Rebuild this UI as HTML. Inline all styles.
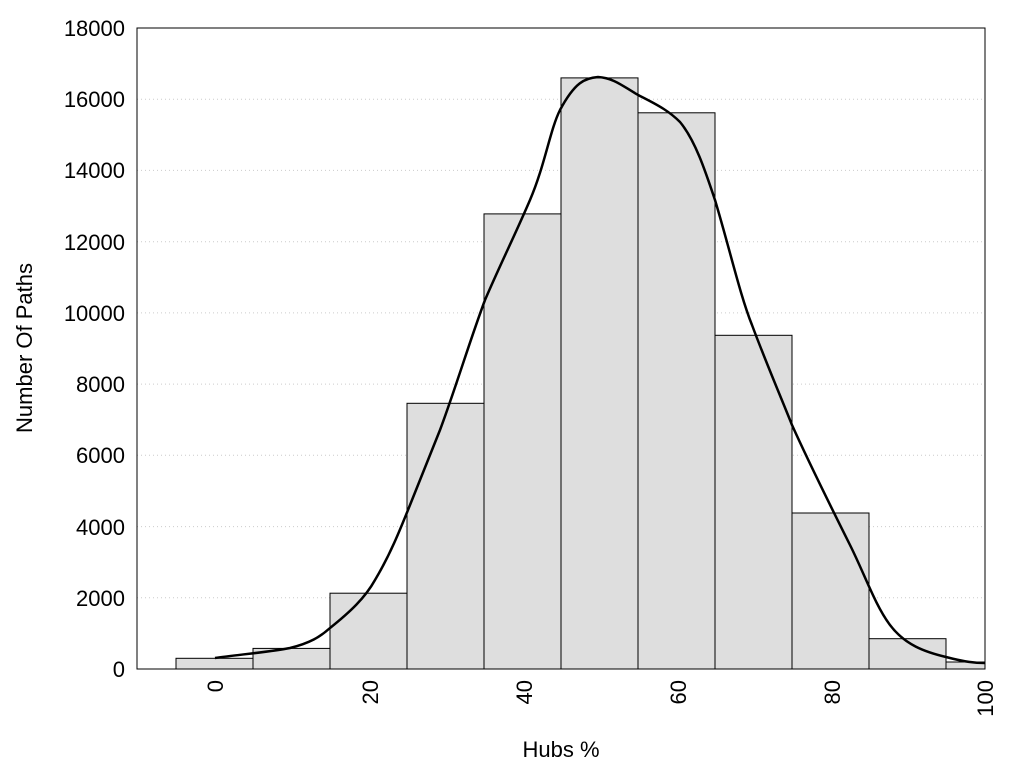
<!DOCTYPE html>
<html><head><style>body{margin:0;background:#fff}svg{display:block}</style></head><body>
<svg width="1024" height="768" xmlns="http://www.w3.org/2000/svg" font-family="Liberation Sans, sans-serif">
<rect width="1024" height="768" fill="#fff"/>
<g stroke="#ccc" stroke-dasharray="1,3" stroke-width="1">
<line x1="137" x2="985" y1="597.8" y2="597.8"/><line x1="137" x2="985" y1="526.6" y2="526.6"/>
<line x1="137" x2="985" y1="455.3" y2="455.3"/><line x1="137" x2="985" y1="384.1" y2="384.1"/>
<line x1="137" x2="985" y1="312.9" y2="312.9"/><line x1="137" x2="985" y1="241.7" y2="241.7"/>
<line x1="137" x2="985" y1="170.4" y2="170.4"/><line x1="137" x2="985" y1="99.2" y2="99.2"/>
</g>
<g fill="#dedede" stroke="#000" stroke-width="1">
<rect x="176" y="658.3" width="77" height="10.7"/>
<rect x="253" y="648.4" width="77" height="20.6"/>
<rect x="330" y="593.2" width="77" height="75.8"/>
<rect x="407" y="403.3" width="77" height="265.7"/>
<rect x="484" y="213.9" width="77" height="455.1"/>
<rect x="561" y="77.9" width="77" height="591.1"/>
<rect x="638" y="112.8" width="77" height="556.2"/>
<rect x="715" y="335.3" width="77" height="333.7"/>
<rect x="792" y="513" width="77" height="156"/>
<rect x="869" y="638.7" width="77" height="30.3"/>
<rect x="946" y="662" width="39" height="7"/>
</g>
<path d="M215,658 C235,655 270,652 290,648 C310,643 320,637 330,628 C350,612 365,598 375,580 C390,555 400,530 410,505 C420,480 430,455 440,430 C455,390 470,340 485,300 C500,265 515,235 530,200 C545,165 550,130 560,110 C575,82 585,78 598,77 C615,78 625,88 640,96 C660,106 670,112 680,122 C695,140 705,170 715,200 C730,250 740,295 752,325 C765,360 780,395 792,425 C810,465 830,505 850,545 C865,575 875,605 890,625 C905,645 925,652 946,657 C965,662 975,663 985,663" fill="none" stroke="#000" stroke-width="2.5"/>
<rect x="137" y="28" width="848" height="641" fill="none" stroke="#000" stroke-width="1"/>
<g font-size="22" text-anchor="end" fill="#000">
<text x="125" y="677">0</text><text x="125" y="606">2000</text><text x="125" y="535">4000</text>
<text x="125" y="463">6000</text><text x="125" y="392">8000</text><text x="125" y="321">10000</text>
<text x="125" y="250">12000</text><text x="125" y="178">14000</text><text x="125" y="107">16000</text>
<text x="125" y="36">18000</text>
</g>
<g font-size="22" text-anchor="end" fill="#000">
<text transform="translate(223,680) rotate(-90)">0</text>
<text transform="translate(378,680) rotate(-90)">20</text>
<text transform="translate(532,680) rotate(-90)">40</text>
<text transform="translate(686,680) rotate(-90)">60</text>
<text transform="translate(840,680) rotate(-90)">80</text>
<text transform="translate(993,680) rotate(-90)">100</text>
</g>
<text x="561" y="757" font-size="22" text-anchor="middle">Hubs %</text>
<text transform="translate(32,348) rotate(-90)" font-size="22" text-anchor="middle">Number Of Paths</text>
</svg>
</body></html>
